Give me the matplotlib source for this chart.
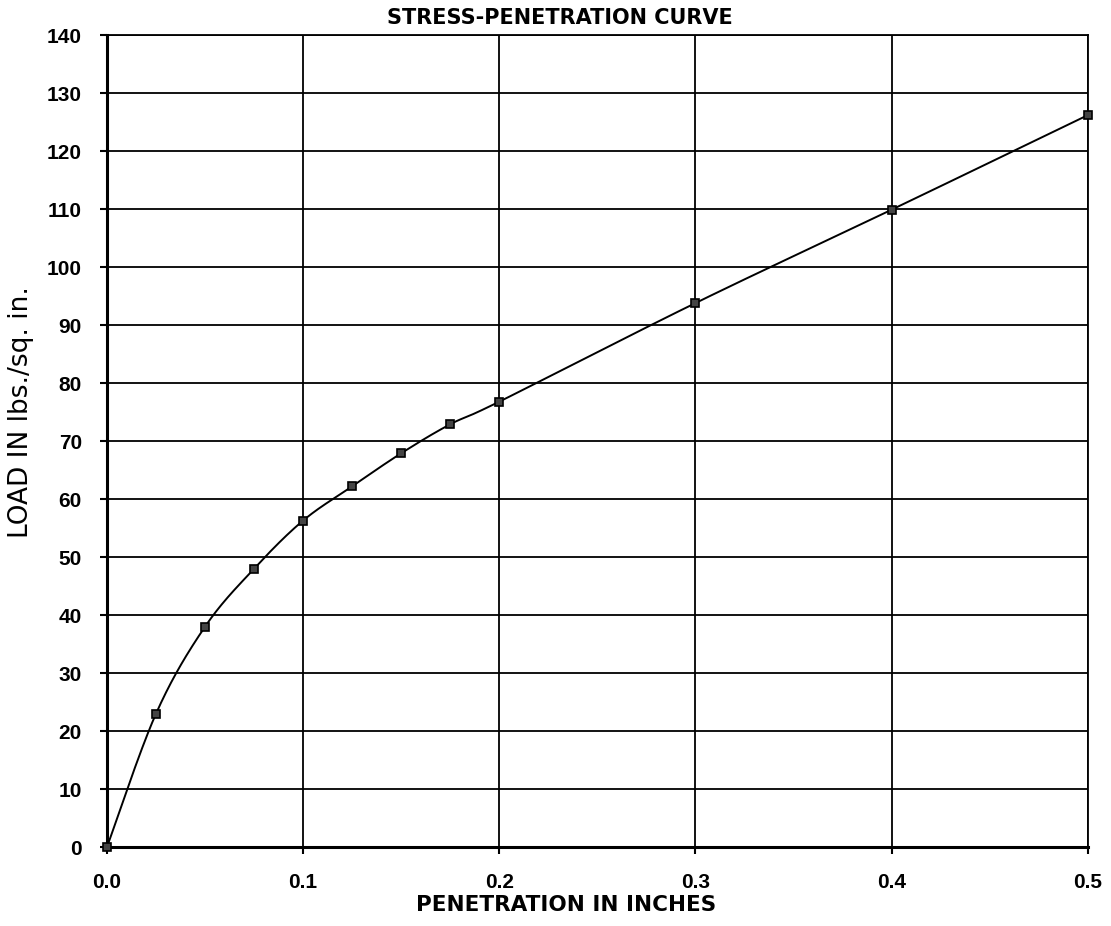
import numpy as np
import matplotlib
matplotlib.use("Agg")
import matplotlib.pyplot as plt

# Data
penetration = [0.0, 0.025, 0.05, 0.075, 0.1, 0.125, 0.15, 0.175, 0.2, 0.3, 0.4, 0.5]
load = [0.0, 23.0, 38.0, 48.0, 56.3, 62.2, 67.9, 72.9, 76.8, 93.8, 109.9, 126.2]
x_ticks = [0.0, 0.1, 0.2, 0.3, 0.4, 0.5]
x_tick_labels = ["0.0", "0.1", "0.2", "0.3", "0.4", "0.5"]
y_ticks = list(range(0, 141, 10))

title = "STRESS-PENETRATION CURVE"
xlabel = "PENETRATION IN INCHES"
ylabel = "LOAD IN lbs./sq. in."


def smooth_curve(xs, ys, n=40):
    """Excel-style smoothed line (Catmull-Rom Bezier) through the points."""
    xs = np.asarray(xs, float)
    ys = np.asarray(ys, float)
    px, py = [], []
    m = len(xs)
    for i in range(m - 1):
        x0, y0 = (xs[i - 1], ys[i - 1]) if i > 0 else (xs[i], ys[i])
        x1, y1 = xs[i], ys[i]
        x2, y2 = xs[i + 1], ys[i + 1]
        x3, y3 = (xs[i + 2], ys[i + 2]) if i + 2 < m else (xs[i + 1], ys[i + 1])
        c1x, c1y = x1 + (x2 - x0) / 6, y1 + (y2 - y0) / 6
        c2x, c2y = x2 - (x3 - x1) / 6, y2 - (y3 - y1) / 6
        t = np.linspace(0, 1, n)
        bx = (1 - t) ** 3 * x1 + 3 * (1 - t) ** 2 * t * c1x + 3 * (1 - t) * t ** 2 * c2x + t ** 3 * x2
        by = (1 - t) ** 3 * y1 + 3 * (1 - t) ** 2 * t * c1y + 3 * (1 - t) * t ** 2 * c2y + t ** 3 * y2
        px.extend(bx)
        py.extend(by)
    return np.array(px), np.array(py)


plt.rcParams['font.family'] = ['Liberation Sans', 'DejaVu Sans']

fig = plt.figure(figsize=(11.11, 9.26), dpi=100)
ax = fig.add_axes([0.0963, 0.0853, 0.979 - 0.0963, 0.962 - 0.0853])

ax.set_xlim(0, 0.5)
ax.set_ylim(0, 140)

ax.set_xticks(x_ticks)
ax.set_xticklabels(x_tick_labels, fontsize=15, fontweight='bold')
ax.set_yticks(y_ticks)
ax.set_yticklabels([str(v) for v in y_ticks], fontsize=15, fontweight='bold')

ax.grid(True, color='black', linewidth=1.3)
ax.set_axisbelow(True)

for side in ['left', 'bottom']:
    ax.spines[side].set_linewidth(2.2)
for side in ['top', 'right']:
    ax.spines[side].set_linewidth(1.3)

ax.tick_params(axis='y', direction='out', length=5, width=1.5, pad=13)
ax.tick_params(axis='x', direction='out', length=5, width=1.5, pad=14)

sx, sy = smooth_curve(penetration, load)
ax.plot(sx, sy, color='black', linewidth=1.4, zorder=3, clip_on=False)
ax.plot(penetration, load, linestyle='none', marker='s', markersize=6,
        markerfacecolor='#444444', markeredgecolor='black', markeredgewidth=1.2,
        zorder=4, clip_on=False)

ax.text(0.462, 1.0 + 17 / 812, title, transform=ax.transAxes, ha='center', va='center',
        fontsize=15, fontweight='bold', family=['DejaVu Sans'])
ax.text(0.468, -58 / 812, xlabel, transform=ax.transAxes, ha='center', va='center',
        fontsize=15.5, fontweight='bold', family=['DejaVu Sans'])
fig.text(21 / 1111, 1 - 412 / 926, ylabel, rotation=90, ha='center', va='center',
         fontsize=19, family=['DejaVu Sans'])

fig.savefig("out.png", dpi=100)
